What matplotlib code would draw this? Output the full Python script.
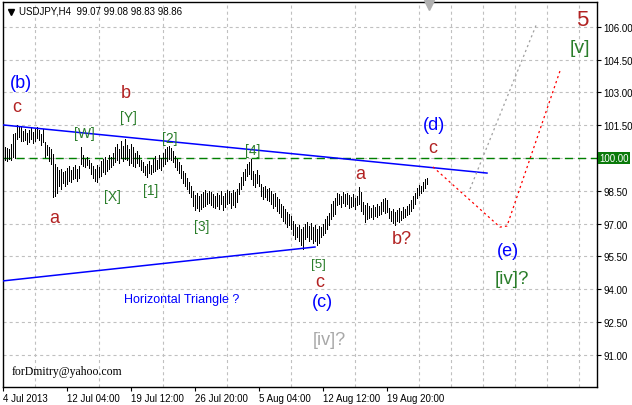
import matplotlib
matplotlib.use("Agg")
import matplotlib.pyplot as plt
import numpy as np

plt.rcParams['lines.scale_dashes'] = False
plt.rcParams['font.family'] = ['Liberation Sans', 'DejaVu Sans']

# ---------------- data ----------------
highs = [100.50, 100.46, 100.41, 100.64, 101.10, 101.15, 101.51, 101.42, 101.46,
         101.23, 101.33, 101.14, 101.28, 101.37, 101.19, 101.33, 101.42, 101.28, 101.10, 101.33,
         100.73, 100.59, 100.50, 100.41, 100.18,
         99.73, 99.59, 99.45, 99.50, 99.36, 99.41,
         99.54, 99.63, 99.45, 99.59, 99.68, 99.50, 99.63,
         100.50, 100.14, 99.95, 100.05, 99.91,
         99.77, 99.63, 99.50, 99.68, 99.59,
         99.86, 99.95, 100.05, 99.91, 100.14, 100.05, 100.23,
         100.50, 100.64, 100.41, 100.78, 100.55, 100.87,
         100.59, 100.41, 100.64, 100.50, 100.23, 100.32, 100.14,
         99.91, 99.82, 99.63, 99.73, 99.86, 99.68, 99.95,
         100.09, 99.91, 100.14, 100.00, 100.23, 100.41,
         100.50, 100.55, 100.46, 100.32,
         100.09, 99.95, 99.82, 99.68, 99.41, 99.31, 99.09, 98.90, 98.72,
         98.49, 98.31, 98.40, 98.26, 98.35, 98.45, 98.54, 98.40,
         98.49, 98.45, 98.35, 98.26, 98.40, 98.31, 98.49, 98.26, 98.40, 98.54,
         98.49, 98.40, 98.54, 98.45, 98.58,
         98.86, 99.13, 99.36, 99.50,
         99.73, 99.82, 99.95,
         99.41, 99.27, 99.45, 99.22,
         98.81, 98.67, 98.72, 98.58, 98.63,
         98.49, 98.35, 98.40, 98.22, 98.13,
         97.90, 97.81, 97.67, 97.53, 97.44, 97.35,
         97.12, 96.98, 96.84, 96.94, 96.75, 96.84,
         96.98, 97.08, 96.89, 97.03, 96.84, 96.94, 96.75, 96.89,
         96.84, 96.98, 97.21, 97.35, 97.49, 97.90,
         98.03, 98.17,
         98.40, 98.35, 98.26, 98.45, 98.35, 98.40,
         98.31, 98.22, 98.35, 98.17, 98.26,
         98.67, 98.45,
         97.99, 97.85, 97.94,
         97.81, 97.71, 97.85, 97.76, 97.90, 97.81, 97.99,
         98.13, 98.17, 98.08,
         97.71, 97.58, 97.67, 97.53, 97.62,
         97.71, 97.58, 97.76, 97.67, 97.81, 97.90,
         98.08, 98.26, 98.40,
         98.63, 98.77, 98.72,
         98.90, 99.04, 99.08]
lows = [99.91, 99.86, 99.95, 99.90, 100.05, 100.00, 100.87, 100.96, 100.78,
        100.78, 100.82, 100.64, 100.73, 100.87, 100.69, 100.78, 100.91, 100.82, 100.59, 100.73,
        100.05, 100.14, 99.86, 99.73, 98.22,
        98.26, 98.40, 98.72, 98.58, 98.86, 98.72,
        98.81, 98.95, 98.90, 99.04, 99.09, 98.95, 99.09,
        99.73, 99.63, 99.59, 99.68, 99.54,
        99.27, 99.09, 98.95, 98.90, 99.13,
        99.18, 99.36, 99.27, 99.41, 99.50, 99.59, 99.68,
        99.82, 99.91, 99.77, 100.00, 99.86, 99.95,
        99.91, 99.68, 99.77, 99.63, 99.59, 99.77, 99.63,
        99.45, 99.36, 99.22, 99.13, 99.31, 99.27, 99.36,
        99.41, 99.50, 99.54, 99.45, 99.63, 99.73,
        99.86, 99.95, 99.91, 99.82,
        99.59, 99.45, 99.31, 99.09, 98.86, 98.72, 98.58, 98.40, 98.22,
        97.81, 97.62, 97.71, 97.58, 97.67, 97.76, 97.81, 97.90,
        97.94, 97.85, 97.76, 97.71, 97.81, 97.67, 97.90, 97.62, 97.76, 97.90,
        97.94, 97.71, 97.85, 97.76, 97.99,
        98.35, 98.58, 98.77, 98.99,
        99.18, 99.27, 99.04,
        98.77, 98.67, 98.86, 98.72,
        98.26, 98.13, 98.22, 98.08, 98.03,
        97.90, 97.71, 97.81, 97.58, 97.49,
        97.30, 97.12, 97.03, 96.84, 96.94, 96.75,
        96.48, 96.30, 96.39, 96.20, 96.02, 95.84,
        96.30, 96.39, 96.20, 96.30, 96.11, 96.20, 96.02, 96.11,
        96.39, 96.48, 96.57, 96.75, 96.94, 97.21,
        97.35, 97.44,
        97.85, 97.90, 97.76, 97.94, 97.81, 97.90,
        97.71, 97.76, 97.81, 97.67, 97.85,
        97.90, 97.58,
        97.44, 97.08, 97.21,
        97.26, 97.30, 97.21, 97.35, 97.30, 97.39, 97.44,
        97.58, 97.49, 97.53,
        97.26, 97.12, 97.03, 96.94, 97.12,
        97.08, 97.17, 97.26, 97.30, 97.39, 97.44,
        97.58, 97.71, 97.90,
        98.17, 98.31, 98.40,
        98.49, 98.63, 98.83]

price_ticks = [91.00, 92.50, 94.00, 95.50, 97.00, 98.50, 100.00, 101.50, 103.00, 104.50, 106.00]
date_labels = ['4 Jul 2013', '12 Jul 04:00', '19 Jul 12:00', '26 Jul 20:00',
               '5 Aug 04:00', '12 Aug 12:00', '19 Aug 20:00']
date_label_bars = [-1, 31, 63, 95, 127, 159, 191]
level_line = 100.00
header = "USDJPY,H4  99.07 99.08 98.83 98.86"

# analyst drawings (bar index, price)
upper_line = [(-1, 101.51), (241, 99.31)]
lower_line = [(-1, 94.38), (155, 95.93)]
red_path = [(214, 99.59), (247.5, 96.84), (251, 96.89), (277.5, 103.98)]
grey_path = [(232.5, 98.58), (266, 106.17)]

# ---------------- figure ----------------
W, H = 632, 406
fig = plt.figure(figsize=(W / 100, H / 100), dpi=100)
fig.patch.set_facecolor('white')
ax = fig.add_axes([3 / W, 18 / H, 594 / W, 385 / H])
ax.set_xlim(-1, 296)
ax.set_ylim(89.53, 107.13)

# grid
ax.set_yticks(price_ticks)
ax.set_yticklabels(["" if v == level_line else f"{v:.2f}" for v in price_ticks])
ax.set_xticks(date_label_bars)
ax.set_xticklabels(date_labels, ha='left')
ax.set_xticks(np.arange(15, 296, 16), minor=True)
grid_kw = dict(color='#c0c0c0', linewidth=0.8, linestyle=(0, (2.2, 2.2)))
ax.grid(True, axis='y', which='major', **grid_kw)
ax.grid(True, axis='x', which='minor', **grid_kw)
ax.set_axisbelow(True)

ax.yaxis.tick_right()
ax.tick_params(axis='y', which='major', direction='out', length=3, width=0.8,
               pad=1.5, labelsize=7, colors='black')
ax.tick_params(axis='x', which='major', direction='out', length=3, width=0.8,
               pad=1.5, labelsize=7)
ax.tick_params(axis='x', which='minor', length=0)
for s in ax.spines.values():
    s.set_color('black')
    s.set_linewidth(1.0)

# bars
idx = np.arange(len(highs))
ax.vlines(idx, lows, highs, colors='black', linewidth=0.6, antialiased=False, zorder=3)

# level line
ax.axhline(level_line, color='#008000', linewidth=1.0, linestyle=(0, (5.8, 3.6)), zorder=2)
ax.text(1.004, level_line, f"{level_line:.2f}", transform=ax.get_yaxis_transform(),
        ha='left', va='center', fontsize=7, color='white', zorder=5,
        bbox=dict(boxstyle='square,pad=0.12', fc='#0a7a0a', ec='none'), clip_on=False)

# triangle lines
ax.plot(*zip(*upper_line), color='#0000ff', linewidth=1.1, zorder=4)
ax.plot(*zip(*lower_line), color='#0000ff', linewidth=1.1, zorder=4)
ax.plot(*zip(*red_path), color='#ff0000', linewidth=0.9, linestyle=(0, (1.6, 2.2)), zorder=4)
ax.plot(*zip(*grey_path), color='#a0a0a0', linewidth=0.9, linestyle=(0, (1.6, 2.2)), zorder=4)

# header
ax.plot([0.013], [0.975], marker='v', color='black', markersize=5, transform=ax.transAxes,
        clip_on=False)
ax.text(0.027, 0.977, header, transform=ax.transAxes, fontsize=7, ha='left', va='center')
ax.plot([212], [106.98], marker='v', color='#b0b0b0', markersize=7, clip_on=False, zorder=5)

# wave labels
blue = '#0000ff'
red = '#b22222'
green = '#2a7d2a'
grey = '#a8a8a8'
labels = [
    ("(b)", 8, 103.43, blue, 13),
    ("c", 6, 102.33, red, 13),
    ("b", 60.5, 102.97, red, 13),
    ("[Y]", 61.5, 101.87, green, 10),
    ("[W]", 39.5, 101.14, green, 10),
    ("[X]", 53.5, 98.26, green, 10),
    ("a", 24.5, 97.26, red, 13),
    ("[1]", 73, 98.54, green, 10),
    ("[2]", 82.5, 100.91, green, 10),
    ("[3]", 98.5, 96.89, green, 10),
    ("[4]", 124, 100.37, green, 10),
    ("a", 177.5, 99.27, red, 13),
    ("b?", 198.5, 96.30, red, 13),
    ("[5]", 156.5, 95.15, green, 9.5),
    ("c", 157.5, 94.33, red, 13),
    ("(c)", 158.5, 93.46, blue, 13),
    ("[iv]?", 162, 91.72, grey, 13),
    ("(d)", 214.5, 101.51, blue, 13),
    ("c", 214, 100.50, red, 13),
    ("(e)", 251.5, 95.79, blue, 13),
    ("[iv]?", 253.5, 94.47, green, 13.5),
    ("5", 288.5, 106.31, red, 16),
    ("[v]", 287.5, 105.03, green, 14),
]
for txt, xi, yp, col, fs in labels:
    ax.text(xi, yp, txt, color=col, fontsize=fs, ha='center', va='center', zorder=6)

ax.text(88.5, 93.55, "Horizontal Triangle ?", color=blue, fontsize=9, ha='center',
        va='center', zorder=6)
ax.text(3.5, 90.26, "forDmitry@yahoo.com", color='black', fontsize=8.5, ha='left',
        va='center', family=['Liberation Serif', 'DejaVu Serif'], zorder=6)

fig.savefig('out.png', dpi=100)
